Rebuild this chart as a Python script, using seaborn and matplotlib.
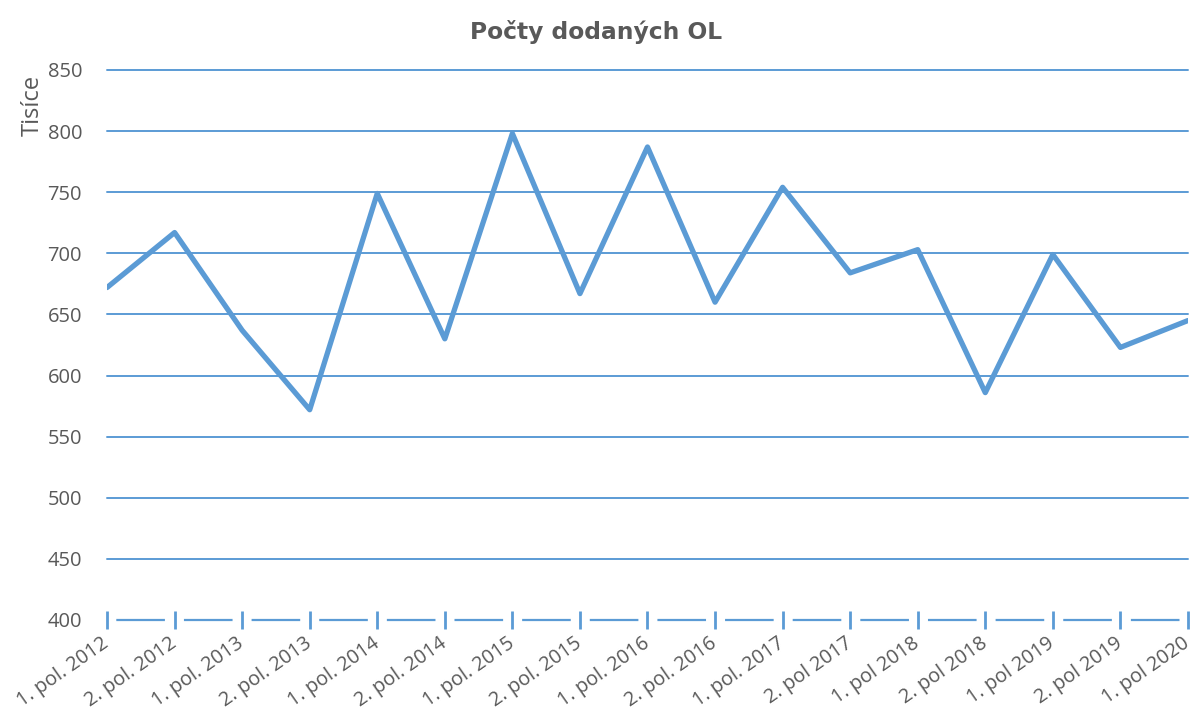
import pandas as pd
import seaborn as sns
import matplotlib.pyplot as plt

# data (thousands)
periods = ['1. pol. 2012', '2. pol. 2012', '1. pol. 2013', '2. pol. 2013', '1. pol. 2014',
           '2. pol. 2014', '1. pol. 2015', '2. pol. 2015', '1. pol. 2016', '2. pol. 2016',
           '1. pol. 2017', '2. pol 2017', '1. pol 2018', '2. pol 2018', '1. pol 2019',
           '2. pol 2019', '1. pol 2020']
values = [672, 717, 637, 572, 749, 630, 798, 667, 787, 660, 754, 684, 703, 586, 699, 623, 645]

blue = '#5B9BD5'
grey = '#595959'

sns.set_theme(style='white')
plt.rcParams['font.family'] = ['Open Sans', 'DejaVu Sans']
plt.rcParams['lines.scale_dashes'] = False

df = pd.DataFrame({'pos': range(len(periods)), 'value': values})

fig = plt.figure(figsize=(11.92, 7.14), dpi=100)
ax = fig.add_axes([0.0898, 0.1317, 0.9068, 0.7703])

sns.lineplot(data=df, x='pos', y='value', color=blue, linewidth=3.8, ax=ax, zorder=3)

ax.set_xlim(0, len(periods) - 1)
ax.set_ylim(400, 850)
ax.set_yticks(range(400, 851, 50))
ax.grid(axis='y', color=blue, linewidth=1.4)
ax.grid(axis='x', visible=False)
for s in ax.spines.values():
    s.set_visible(False)
for g in ax.yaxis.get_gridlines():
    g.set_clip_on(False)
ax.yaxis.get_gridlines()[0].set_visible(False)

# dashed category axis at 400
ax.axhline(400, color=blue, linewidth=1.6, linestyle=(42, (35, 13.7)), zorder=4, clip_on=False)

ax.set_xticks(df['pos'])
ax.set_xticklabels(periods, rotation=35, ha='right', va='center', rotation_mode='anchor')
ax.tick_params(axis='x', direction='inout', length=13, width=2, color=blue,
               labelsize=14.3, labelcolor=grey, pad=9, bottom=True)
ax.tick_params(axis='y', length=0, labelsize=14.5, labelcolor=grey, pad=18)

ax.set_xlabel('')
ax.set_ylabel('Tisíce', fontsize=17, color=grey)
ax.yaxis.set_label_coords(-0.058, 0.935)
fig.suptitle('Počty dodaných OL', x=0.5, y=0.972, fontsize=16.8, fontweight='bold',
             color=grey, family=['DejaVu Sans'])

fig.savefig('out.png', dpi=100)
